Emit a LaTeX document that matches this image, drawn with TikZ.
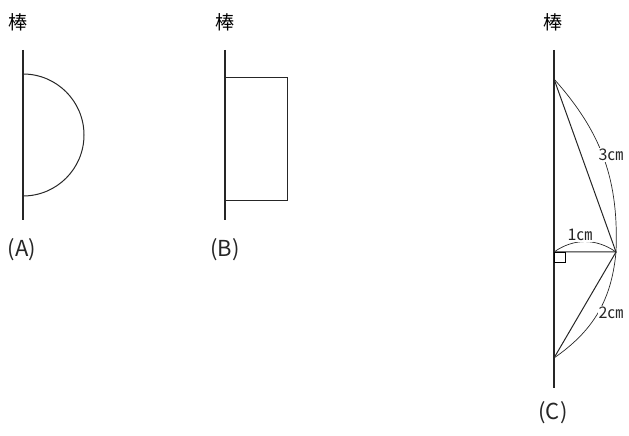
\documentclass[tikz,border=0pt]{standalone}
\usepackage{fontspec}
\setmainfont{Noto Sans CJK JP}
\begin{document}
\begin{tikzpicture}[x=1pt,y=1pt,
  poleline/.style={line width=1.3pt, black!85},
  figline/.style={line width=1.0pt, black!85},
  braceline/.style={line width=0.7pt, black!85},
  lbl/.style={font=\fontsize{19}{19}\selectfont, inner sep=0pt},
  captext/.style={font=\fontsize{22}{22}\selectfont, inner sep=0pt, text=black!85},
  dimtext/.style={font=\fontsize{16}{16}\selectfont, fill=white, inner sep=1pt, text=black!85}]
\useasboundingbox (0,0) rectangle (629,436);
% (A)
\node[lbl] (ta) at (18,414) {棒};
\coordinate (a1) at (23,386);
\coordinate (a2) at (23,216);
\draw[poleline] (a1) -- (a2);
\draw[figline] (23,362) arc[start angle=90, end angle=-90, radius=61];
\node[captext] (la) at (22,186) {(A)};
% (B)
\node[lbl] (tb) at (225,414) {棒};
\coordinate (b1) at (225,386);
\coordinate (b2) at (225,216);
\draw[poleline] (b1) -- (b2);
\draw[figline] (225,358) rectangle (287,235);
\node[captext] (lb) at (225,186) {(B)};
% (C)
\node[lbl] (tc) at (553,414) {棒};
\coordinate (c1) at (554,386);
\coordinate (c2) at (554,48);
\coordinate (T) at (554,357);
\coordinate (M) at (616,184);
\coordinate (P) at (554,184);
\coordinate (B) at (554,78);
\draw[poleline] (c1) -- (c2);
\draw[figline] (T) -- (M) -- (P);
\draw[figline] (M) -- (B);
\draw[line width=0.8pt] (P) rectangle ++(11,-10);
\draw[braceline] (T) to[bend left=22] (M);
\draw[braceline] (P) to[bend left=35] (M);
\draw[braceline] (M) to[bend left=25] (B);
\node[dimtext] (d3) at (611,281) {3㎝};
\node[dimtext] (d1) at (580,201) {1㎝};
\node[dimtext] (d2) at (611,123) {2㎝};
\node[captext] (lc) at (553,23) {(C)};
\end{tikzpicture}
\end{document}
